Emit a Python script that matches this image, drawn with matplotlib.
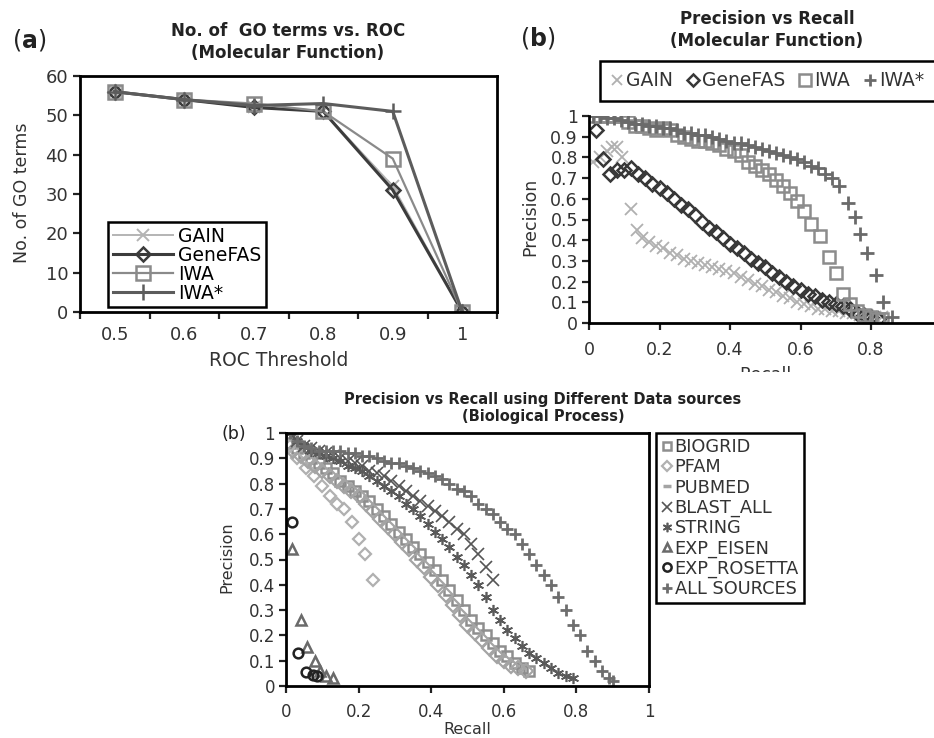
import matplotlib
matplotlib.use('Agg')
import matplotlib.pyplot as plt
from matplotlib.lines import Line2D
from matplotlib.patches import Rectangle

plt.rcParams['font.family'] = ['DejaVu Sans']
plt.rcParams['mathtext.fontset'] = 'custom'
plt.rcParams['mathtext.rm'] = 'DejaVu Sans'
plt.rcParams['mathtext.bf'] = 'DejaVu Sans:bold'

# ---- (a) number of GO terms per ROC threshold ----
roc_thresholds = ['0.5', '0.6', '0.7', '0.8', '0.9', '1']
go_gain = [56, 54, 52, 51, 32, 0]
go_genefas = [56, 54, 52, 51, 31, 0]
go_iwa = [56, 54, 53, 51, 39, 0]
go_iwa_star = [56, 54, 52.5, 53, 51, 0]

# ---- (b) precision / recall, molecular function ----
mf_gain_recall = [0.01, 0.03, 0.05, 0.065, 0.08, 0.095, 0.12, 0.135, 0.15, 0.17, 0.19, 0.21,
                  0.23, 0.25, 0.27, 0.29, 0.31, 0.33, 0.35, 0.37, 0.39, 0.41, 0.43, 0.45,
                  0.47, 0.49, 0.51, 0.53, 0.55, 0.57, 0.59, 0.61, 0.63, 0.65, 0.67, 0.69,
                  0.71, 0.73, 0.75, 0.77, 0.79, 0.81, 0.83]
mf_gain_prec = [0.78, 0.80, 0.83, 0.85, 0.85, 0.80, 0.55, 0.45, 0.41, 0.39, 0.37, 0.36,
                0.34, 0.33, 0.31, 0.30, 0.29, 0.28, 0.27, 0.26, 0.25, 0.24, 0.22, 0.21,
                0.19, 0.18, 0.16, 0.15, 0.13, 0.12, 0.10, 0.09, 0.08, 0.07, 0.07, 0.06,
                0.06, 0.05, 0.05, 0.04, 0.04, 0.03, 0.03]

mf_genefas_recall = [0.02, 0.04, 0.06, 0.08, 0.10, 0.12, 0.14, 0.16, 0.18, 0.20, 0.22, 0.24,
                     0.26, 0.28, 0.30, 0.32, 0.34, 0.36, 0.38, 0.40, 0.42, 0.44, 0.46, 0.48,
                     0.50, 0.52, 0.54, 0.56, 0.58, 0.60, 0.62, 0.64, 0.66, 0.68, 0.70, 0.72,
                     0.74, 0.76, 0.78, 0.80, 0.82]
mf_genefas_prec = [0.93, 0.79, 0.72, 0.74, 0.74, 0.75, 0.72, 0.70, 0.67, 0.65, 0.63, 0.60,
                   0.57, 0.55, 0.52, 0.49, 0.46, 0.44, 0.41, 0.38, 0.36, 0.34, 0.31, 0.29,
                   0.27, 0.24, 0.22, 0.20, 0.18, 0.16, 0.14, 0.13, 0.11, 0.10, 0.09, 0.08,
                   0.07, 0.05, 0.04, 0.03, 0.02]

mf_iwa_recall = [0.01, 0.03, 0.05, 0.07, 0.09, 0.11, 0.13, 0.15, 0.17, 0.19, 0.21, 0.23,
                 0.25, 0.27, 0.29, 0.31, 0.33, 0.35, 0.37, 0.39, 0.41, 0.43, 0.45, 0.47,
                 0.49, 0.51, 0.53, 0.55, 0.57, 0.59, 0.61, 0.63, 0.655, 0.68, 0.70, 0.72,
                 0.74, 0.76, 0.78, 0.80, 0.82, 0.83]
mf_iwa_prec = [1.00, 1.00, 1.00, 1.00, 1.00, 0.97, 0.95, 0.95, 0.94, 0.93, 0.94, 0.93,
               0.91, 0.90, 0.89, 0.88, 0.88, 0.87, 0.86, 0.84, 0.83, 0.81, 0.78, 0.76,
               0.74, 0.72, 0.69, 0.66, 0.63, 0.59, 0.54, 0.48, 0.42, 0.32, 0.24, 0.14,
               0.09, 0.06, 0.04, 0.03, 0.02, 0.02]

mf_iwa_star_recall = [0.01, 0.03, 0.05, 0.07, 0.09, 0.11, 0.13, 0.15, 0.17, 0.19, 0.21, 0.23,
                      0.25, 0.27, 0.29, 0.31, 0.33, 0.35, 0.37, 0.39, 0.41, 0.43, 0.45, 0.47,
                      0.49, 0.51, 0.53, 0.55, 0.57, 0.59, 0.61, 0.63, 0.65, 0.67, 0.69, 0.71,
                      0.735, 0.755, 0.77, 0.79, 0.815, 0.835, 0.86]
mf_iwa_star_prec = [1.00, 1.00, 0.99, 0.99, 0.98, 0.97, 0.96, 0.96, 0.95, 0.95, 0.94, 0.94,
                    0.93, 0.92, 0.92, 0.91, 0.91, 0.90, 0.89, 0.88, 0.87, 0.87, 0.86, 0.85,
                    0.84, 0.83, 0.82, 0.81, 0.80, 0.79, 0.78, 0.76, 0.75, 0.72, 0.70, 0.66,
                    0.58, 0.51, 0.43, 0.34, 0.23, 0.10, 0.03]

# ---- (b) precision / recall per data source, biological process ----
bp_biogrid_recall = [0.01, 0.03, 0.05, 0.07, 0.09, 0.11, 0.13, 0.15, 0.17, 0.19, 0.21, 0.23,
                     0.25, 0.27, 0.29, 0.31, 0.33, 0.35, 0.37, 0.39, 0.41, 0.43, 0.45, 0.47,
                     0.49, 0.51, 0.53, 0.55, 0.57, 0.59, 0.61, 0.63, 0.65, 0.67]
bp_biogrid_prec = [0.96, 0.94, 0.92, 0.90, 0.88, 0.86, 0.84, 0.81, 0.79, 0.77, 0.75, 0.73,
                   0.70, 0.67, 0.64, 0.61, 0.58, 0.55, 0.52, 0.49, 0.46, 0.42, 0.38, 0.34,
                   0.30, 0.26, 0.23, 0.20, 0.17, 0.14, 0.12, 0.09, 0.07, 0.06]

bp_pfam_recall = [0.01, 0.03, 0.055, 0.077, 0.10, 0.121, 0.14, 0.16, 0.181, 0.20, 0.218, 0.239]
bp_pfam_prec = [0.95, 0.90, 0.86, 0.83, 0.79, 0.75, 0.72, 0.70, 0.65, 0.58, 0.52, 0.42]

bp_pubmed_recall = [0.02, 0.04, 0.06, 0.08, 0.10, 0.12, 0.14, 0.16, 0.18, 0.20, 0.22, 0.24,
                    0.26, 0.28, 0.30, 0.32, 0.34, 0.36, 0.38, 0.40, 0.42, 0.44, 0.46, 0.48,
                    0.50, 0.52, 0.54, 0.56, 0.58, 0.60, 0.62, 0.64, 0.66]
bp_pubmed_prec = [0.93, 0.91, 0.89, 0.87, 0.85, 0.83, 0.81, 0.79, 0.77, 0.75, 0.72, 0.69,
                  0.66, 0.63, 0.60, 0.57, 0.54, 0.50, 0.47, 0.43, 0.40, 0.36, 0.32, 0.28,
                  0.24, 0.21, 0.18, 0.15, 0.12, 0.10, 0.08, 0.07, 0.06]

bp_blast_recall = [0.01, 0.03, 0.05, 0.07, 0.09, 0.11, 0.13, 0.15, 0.17, 0.19, 0.21, 0.23,
                   0.25, 0.27, 0.29, 0.31, 0.33, 0.35, 0.37, 0.39, 0.41, 0.43, 0.45, 0.47,
                   0.49, 0.51, 0.53, 0.55, 0.57]
bp_blast_prec = [1.00, 0.97, 0.95, 0.94, 0.93, 0.92, 0.91, 0.90, 0.89, 0.88, 0.87, 0.85,
                 0.84, 0.83, 0.81, 0.79, 0.77, 0.75, 0.73, 0.71, 0.69, 0.67, 0.65, 0.62,
                 0.60, 0.56, 0.52, 0.47, 0.42]

bp_string_recall = [0.01, 0.03, 0.05, 0.07, 0.09, 0.11, 0.13, 0.15, 0.17, 0.19, 0.21, 0.23,
                    0.25, 0.27, 0.29, 0.31, 0.33, 0.35, 0.37, 0.39, 0.41, 0.43, 0.45, 0.47,
                    0.49, 0.51, 0.53, 0.55, 0.57, 0.59, 0.61, 0.63, 0.65, 0.67, 0.69, 0.71,
                    0.73, 0.75, 0.77, 0.79]
bp_string_prec = [1.00, 0.97, 0.95, 0.93, 0.92, 0.91, 0.90, 0.89, 0.87, 0.86, 0.85, 0.83,
                  0.81, 0.79, 0.77, 0.75, 0.72, 0.70, 0.67, 0.64, 0.61, 0.58, 0.55, 0.51,
                  0.48, 0.44, 0.40, 0.35, 0.30, 0.26, 0.22, 0.19, 0.16, 0.13, 0.11, 0.09,
                  0.07, 0.05, 0.04, 0.03]

bp_eisen_recall = [0.017, 0.04, 0.057, 0.08, 0.095, 0.11, 0.13]
bp_eisen_prec = [0.54, 0.26, 0.155, 0.10, 0.06, 0.04, 0.03]

bp_rosetta_recall = [0.016, 0.034, 0.054, 0.075, 0.085]
bp_rosetta_prec = [0.65, 0.13, 0.057, 0.045, 0.04]

bp_all_recall = [0.01, 0.03, 0.05, 0.07, 0.09, 0.11, 0.13, 0.15, 0.17, 0.19, 0.21, 0.23,
                 0.25, 0.27, 0.29, 0.31, 0.33, 0.35, 0.37, 0.39, 0.41, 0.43, 0.45, 0.47,
                 0.49, 0.51, 0.53, 0.55, 0.57, 0.59, 0.61, 0.63, 0.65, 0.67, 0.69, 0.71,
                 0.73, 0.75, 0.77, 0.79, 0.81, 0.83, 0.85, 0.87, 0.89, 0.90]
bp_all_prec = [1.00, 0.97, 0.95, 0.94, 0.93, 0.93, 0.93, 0.93, 0.92, 0.92, 0.91, 0.91,
               0.90, 0.89, 0.88, 0.88, 0.87, 0.86, 0.85, 0.84, 0.83, 0.82, 0.80, 0.78,
               0.77, 0.75, 0.72, 0.70, 0.68, 0.65, 0.62, 0.60, 0.56, 0.52, 0.48, 0.44,
               0.40, 0.35, 0.30, 0.24, 0.20, 0.14, 0.10, 0.06, 0.03, 0.02]

prec_ticks = [i / 10 for i in range(11)]
prec_labels = ['0', '0.1', '0.2', '0.3', '0.4', '0.5', '0.6', '0.7', '0.8', '0.9', '1']

W, H = 934, 738
fig = plt.figure(figsize=(W / 100, H / 100), dpi=100)


def box(left, top, right, bottom):
    return [left / W, 1 - bottom / H, (right - left) / W, (bottom - top) / H]


def at(x, y):
    return x / W, 1 - y / H


def style_axes(ax, lw=2.0):
    for s in ax.spines.values():
        s.set_linewidth(lw)
        s.set_color('black')
    ax.tick_params(direction='out', length=5, width=1.6, colors='#222222')


# ---------------- panel (a) ----------------
ax_a = fig.add_axes(box(80, 76, 497, 312))
xs = list(range(len(roc_thresholds)))
ax_a.plot(xs, go_gain, color='#b4b4b4', lw=1.4, marker='x', ms=8, mew=1.4, label='GAIN')
ax_a.plot(xs, go_genefas, color='#3c3c3c', lw=2.2, marker='D', ms=7, mfc='none', mew=1.8,
          label='GeneFAS')
ax_a.plot(xs, go_iwa, color='#8a8a8a', lw=1.6, marker='s', ms=10, mfc='none', mew=1.8,
          label='IWA')
ax_a.plot(xs, go_iwa_star, color='#5c5c5c', lw=2.2, marker='+', ms=11, mew=1.8, label='IWA*')
ax_a.set_xlim(-0.5, len(xs) - 0.5)
ax_a.set_ylim(0, 60)
ax_a.set_yticks(range(0, 61, 10))
ax_a.set_xticks([i - 0.5 for i in range(len(xs) + 1)])
ax_a.set_xticklabels([])
ax_a.set_xticks(xs, minor=True)
ax_a.set_xticklabels(roc_thresholds, minor=True)
ax_a.tick_params(axis='x', which='minor', length=0, pad=10)
style_axes(ax_a)
ax_a.tick_params(labelsize=13, labelcolor='#333333')
ax_a.tick_params(axis='x', which='minor', labelsize=13, labelcolor='#333333')
fig.legend(handles=ax_a.get_lines(), loc='upper left', bbox_to_anchor=at(108, 222),
           borderaxespad=0, fontsize=13.5, handlelength=3.2, handletextpad=0.3,
           labelspacing=0.0, borderpad=0.25, fancybox=False, framealpha=1,
           edgecolor='black').get_frame().set_linewidth(1.8)

fig.text(*at(29, 40), r'($\mathbf{a}$)', fontsize=17, ha='center', va='center',
         color='#222222')
fig.text(*at(288, 42), 'No. of  GO terms vs. ROC\n(Molecular Function)', fontsize=12,
         fontweight='bold', ha='center', va='center', linespacing=1.25, color='#222222')
fig.text(*at(22, 193), 'No. of GO terms', fontsize=12.5, rotation=90, ha='center',
         va='center', color='#333333')
fig.text(*at(279, 361), 'ROC Threshold', fontsize=13.5, ha='center', va='center',
         color='#333333')

# ---------------- panel (b), molecular function ----------------
ax_b = fig.add_axes(box(589, 116, 589 + 352.5, 323))
ax_b.plot(mf_gain_recall, mf_gain_prec, ls='none', marker='x', ms=8, mew=1.3,
          color='#b0b0b0', label='GAIN')
ax_b.plot(mf_genefas_recall, mf_genefas_prec, ls='none', marker='D', ms=7, mfc='none',
          mew=1.8, color='#383838', label='GeneFAS')
ax_b.plot(mf_iwa_recall, mf_iwa_prec, ls='none', marker='s', ms=9, mfc='none', mew=1.8,
          color='#8c8c8c', label='IWA')
ax_b.plot(mf_iwa_star_recall, mf_iwa_star_prec, ls='none', marker='+', ms=10, mew=2,
          color='#6a6a6a', label='IWA*')
ax_b.set_xlim(0, 1)
ax_b.set_ylim(0, 1)
ax_b.set_xticks([0, 0.2, 0.4, 0.6, 0.8])
ax_b.set_xticklabels(['0', '0.2', '0.4', '0.6', '0.8'])
ax_b.set_yticks(prec_ticks)
ax_b.set_yticklabels(prec_labels)
ax_b.spines['top'].set_visible(False)
ax_b.spines['right'].set_visible(False)
style_axes(ax_b)
ax_b.tick_params(labelsize=12.5, labelcolor='#333333', pad=3)
ax_b.tick_params(axis='x', pad=8)
leg_b = fig.legend(handles=ax_b.get_lines(), loc='upper left', bbox_to_anchor=at(600, 61),
                   borderaxespad=0, ncol=4, fontsize=13.5, handlelength=0.7,
                   handletextpad=0.15, columnspacing=0.7, borderpad=0.55, markerscale=0.9,
                   fancybox=False, framealpha=1, edgecolor='black')
leg_b.get_frame().set_linewidth(1.8)
for t in leg_b.get_texts():
    t.set_color('#333333')

fig.text(*at(538, 38), r'($\mathbf{b}$)', fontsize=17, ha='center', va='center',
         color='#222222')
fig.text(*at(767, 30), 'Precision vs Recall\n(Molecular Function)', fontsize=12,
         fontweight='bold', ha='center', va='center', linespacing=1.25, color='#222222')
fig.text(*at(530, 217), 'Precision', fontsize=12.5, rotation=90, ha='center', va='center',
         color='#333333')
fig.text(*at(765, 366), 'Recall', fontsize=12.5, ha='center', va='top', color='#333333',
         zorder=1)
# the lower panel's white band hides the bottom of the upper x label
fig.patches.append(Rectangle(at(690, 394), 150 / W, 22 / H, transform=fig.transFigure,
                             facecolor='white', edgecolor='none', zorder=2))

# ---------------- panel (b), biological process ----------------
ax_c = fig.add_axes(box(286, 433, 649, 686), zorder=3)
ax_c.plot(bp_biogrid_recall, bp_biogrid_prec, ls='none', marker='s', ms=7, mfc='none',
          mew=1.8, color='#8e8e8e', label='BIOGRID')
ax_c.plot(bp_pfam_recall, bp_pfam_prec, ls='none', marker='D', ms=6, mfc='none', mew=1.6,
          color='#b0b0b0', label='PFAM')
ax_c.plot(bp_pubmed_recall, bp_pubmed_prec, ls='none', marker='D', ms=7, mfc='none',
          mew=1.6, color='#a4a4a4', label='PUBMED')
ax_c.plot(bp_blast_recall, bp_blast_prec, ls='none', marker='x', ms=8, mew=1.2,
          color='#555555', label='BLAST_ALL')
ax_c.plot(bp_string_recall, bp_string_prec, ls='none', marker=(6, 2, 0), ms=8, mew=1.2,
          color='#5a5a5a', label='STRING')
ax_c.plot(bp_eisen_recall, bp_eisen_prec, ls='none', marker='^', ms=7, mfc='none', mew=1.8,
          color='#6a6a6a', label='EXP_EISEN')
ax_c.plot(bp_rosetta_recall, bp_rosetta_prec, ls='none', marker='o', ms=7, mfc='none',
          mew=1.8, color='#222222', label='EXP_ROSETTA')
ax_c.plot(bp_all_recall, bp_all_prec, ls='none', marker='+', ms=9, mew=2, color='#6e6e6e',
          label='ALL SOURCES')
ax_c.set_xlim(0, 1)
ax_c.set_ylim(0, 1)
ax_c.set_xticks([0, 0.2, 0.4, 0.6, 0.8, 1.0])
ax_c.set_xticklabels(['0', '0.2', '0.4', '0.6', '0.8', '1'])
ax_c.set_yticks(prec_ticks)
ax_c.set_yticklabels(prec_labels)
style_axes(ax_c)
ax_c.tick_params(labelsize=12, labelcolor='#333333', pad=3)
ax_c.tick_params(axis='x', pad=7)

handles_c = ax_c.get_lines()
handles_c[2] = Line2D([], [], ls='none', marker='_', ms=7, mew=2.5, color='#a4a4a4',
                      label='PUBMED')
leg_c = fig.legend(handles=handles_c, loc='upper left', bbox_to_anchor=at(656, 433),
                   borderaxespad=0, fontsize=12.8, handlelength=0.6, handletextpad=0.15,
                   labelspacing=0.12, borderpad=0.3, markerscale=0.85, fancybox=False,
                   framealpha=1, edgecolor='black')
leg_c.get_frame().set_linewidth(1.8)
leg_c.set_zorder(4)
for t in leg_c.get_texts():
    t.set_color('#333333')

fig.text(*at(543, 408), 'Precision vs Recall using Different Data sources\n'
         '(Biological Process)', fontsize=10.5, fontweight='bold', ha='center', va='center',
         linespacing=1.15, color='#222222', zorder=4)
fig.text(*at(234, 434), '(b)', fontsize=12.5, ha='center', va='center', color='#222222',
         zorder=4)
fig.text(*at(227, 557), 'Precision', fontsize=11.5, rotation=90, ha='center', va='center',
         color='#333333', zorder=4)
fig.text(*at(467, 730), 'Recall', fontsize=11.5, ha='center', va='center', color='#333333',
         zorder=4)

fig.savefig('out.png', dpi=100)
